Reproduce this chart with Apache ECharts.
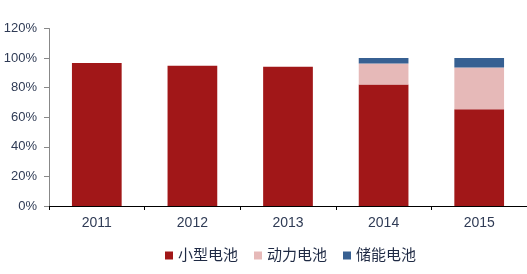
<!DOCTYPE html>
<html><head><meta charset="utf-8">
<script src="https://cdn.jsdelivr.net/npm/echarts@6/dist/echarts.min.js"></script>
<style>html,body{margin:0;padding:0;background:#fff}#c{width:527px;height:274px}</style>
</head><body><div id="c"></div>
<script>
var categories = ['2011','2012','2013','2014','2015'];
var small = [96.6, 94.8, 94.1, 82.2, 65.4];
var power = [0, 0, 0, 14.2, 28.3];
var storage = [0, 0, 0, 3.6, 6.3];
var names = ['小型电池','动力电池','储能电池'];
var chart = echarts.init(document.getElementById('c'));
var font = 'Liberation Sans, Arial, "Noto Sans CJK SC", sans-serif';
chart.setOption({
  animation:false,
  grid:{left:49, top:28.5, width:480, height:177.5, containLabel:false},
  legend:{top:243, left:160, icon:'rect', itemWidth:8, itemHeight:8, itemGap:16,
    textStyle:{fontSize:15, color:'#1f2a44', fontFamily:font},
    data:names},
  xAxis:{type:'category', data:categories,
    axisLine:{lineStyle:{color:'#000', width:1}},
    axisTick:{show:true, alignWithLabel:false, length:4, lineStyle:{color:'#000'}},
    axisLabel:{fontSize:14, color:'#2f3b55', margin:10, fontFamily:font}},
  yAxis:{type:'value', min:0, max:120, interval:20,
    axisLine:{show:true, lineStyle:{color:'#888'}},
    axisTick:{show:true, length:5, lineStyle:{color:'#888'}},
    splitLine:{show:false},
    axisLabel:{fontSize:13, color:'#2f3b55', margin:12, fontFamily:font, formatter:'{value}%'}},
  series:[
    {name:names[0], type:'bar', stack:'a', data:small, barWidth:'52%', itemStyle:{color:'#A11718'}},
    {name:names[1], type:'bar', stack:'a', data:power, itemStyle:{color:'#E6B9B8'}},
    {name:names[2], type:'bar', stack:'a', data:storage, itemStyle:{color:'#376092'}}
  ]
});
</script></body></html>
